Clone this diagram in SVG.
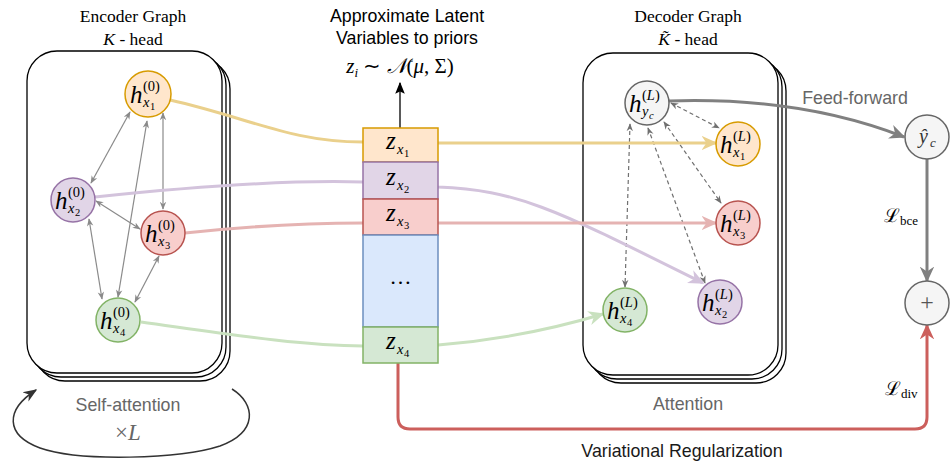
<svg xmlns="http://www.w3.org/2000/svg" width="950" height="465" viewBox="0 0 950 465">
<style>
.box{fill:#fff;stroke:#000;stroke-width:1.3}
.ttl{font-family:"Liberation Serif",serif;font-size:17.5px;fill:#000;text-anchor:middle}
.sans{font-family:"Liberation Sans",Arial,sans-serif;font-size:17.8px;text-anchor:middle}
.mh{font-family:"Liberation Serif",serif;font-style:italic;font-size:25px;fill:#000}
.sp{font-family:"Liberation Serif",serif;font-size:14.5px;fill:#000}
.si{font-family:"Liberation Serif",serif;font-style:italic;font-size:14.5px;fill:#000}
.ss{font-family:"Liberation Serif",serif;font-size:10.5px;fill:#000}
.ssi{font-family:"Liberation Serif",serif;font-style:italic;font-size:10.5px;fill:#000}
.ge{fill:none;stroke:#8a8a8a;stroke-width:1.2;marker-start:url(#ag);marker-end:url(#ag)}
.de{fill:none;stroke:#707070;stroke-width:1.2;stroke-dasharray:4 3;marker-start:url(#ad);marker-end:url(#ad)}
.cl{fill:none;stroke-width:3}
</style>
<defs>
<marker id="ag" viewBox="0 0 10 10" refX="9" refY="5" markerWidth="8" markerHeight="8" markerUnits="userSpaceOnUse" orient="auto-start-reverse"><path d="M0,1 L10,5 L0,9 L3,5 z" fill="#8a8a8a"/></marker>
<marker id="ad" viewBox="0 0 10 10" refX="9" refY="5" markerWidth="8" markerHeight="8" markerUnits="userSpaceOnUse" orient="auto-start-reverse"><path d="M0,1 L10,5 L0,9 L3,5 z" fill="#707070"/></marker>
<marker id="ao" viewBox="0 0 10 10" refX="9" refY="5" markerWidth="16" markerHeight="16" markerUnits="userSpaceOnUse" orient="auto"><path d="M0,0.5 L10,5 L0,9.5 L3,5 z" fill="#ead08c"/></marker>
<marker id="ap" viewBox="0 0 10 10" refX="9" refY="5" markerWidth="16" markerHeight="16" markerUnits="userSpaceOnUse" orient="auto"><path d="M0,0.5 L10,5 L0,9.5 L3,5 z" fill="#d3c3dc"/></marker>
<marker id="ar" viewBox="0 0 10 10" refX="9" refY="5" markerWidth="16" markerHeight="16" markerUnits="userSpaceOnUse" orient="auto"><path d="M0,0.5 L10,5 L0,9.5 L3,5 z" fill="#e5b3b2"/></marker>
<marker id="agr" viewBox="0 0 10 10" refX="9" refY="5" markerWidth="16" markerHeight="16" markerUnits="userSpaceOnUse" orient="auto"><path d="M0,0.5 L10,5 L0,9.5 L3,5 z" fill="#c9e1bf"/></marker>
<marker id="agy" viewBox="0 0 10 10" refX="9" refY="5" markerWidth="16" markerHeight="16" markerUnits="userSpaceOnUse" orient="auto"><path d="M0,0.5 L10,5 L0,9.5 L3,5 z" fill="#808080"/></marker>
<marker id="ared" viewBox="0 0 10 10" refX="9" refY="5" markerWidth="16" markerHeight="16" markerUnits="userSpaceOnUse" orient="auto"><path d="M0,0.5 L10,5 L0,9.5 L3,5 z" fill="#cc5f5c"/></marker>
<marker id="ablk" viewBox="0 0 10 10" refX="9" refY="5" markerWidth="12" markerHeight="12" markerUnits="userSpaceOnUse" orient="auto"><path d="M0,1 L10,5 L0,9 L2,5 z" fill="#000"/></marker>
<marker id="adk" viewBox="0 0 10 10" refX="9" refY="5" markerWidth="14" markerHeight="14" markerUnits="userSpaceOnUse" orient="auto"><path d="M0,1 L10,5 L0,9 L3,5 z" fill="#333"/></marker>
</defs>

<!-- Encoder frame -->
<g id="encoder-frame">
<rect class="box" x="35" y="59" width="195" height="322" rx="30"/>
<rect class="box" x="31" y="55" width="195" height="322" rx="30"/>
<rect class="box" x="27" y="51" width="195" height="322" rx="30"/>
<text class="ttl" x="133" y="22">Encoder Graph</text>
<text class="ttl" x="133" y="45"><tspan font-style="italic">K</tspan> - head</text>
</g>

<!-- Decoder frame -->
<g id="decoder-frame">
<rect class="box" x="591" y="61" width="195" height="322" rx="30"/>
<rect class="box" x="587" y="57" width="195" height="322" rx="30"/>
<rect class="box" x="583" y="53" width="195" height="322" rx="30"/>
<text class="ttl" x="688" y="22">Decoder Graph</text>
<text class="ttl" x="688" y="45"><tspan font-style="italic">K̃</tspan> - head</text>
</g>

<!-- connectors -->
<g id="connectors">
<path class="ge" d="M130,112 L91,183"/>
<path class="ge" d="M147,121 L118,297"/>
<path class="ge" d="M163,113 L163,209"/>
<path class="ge" d="M96,201 L140,229"/>
<path class="ge" d="M89,219 L102,299"/>
<path class="ge" d="M159,256 L135,302"/>
<path class="de" d="M671,103 L719,128"/>
<path class="de" d="M664,122 L721,203"/>
<path class="de" d="M648,128 L705,283"/>
<path class="de" d="M630,124 L625,287"/>
<path class="cl" stroke="#ead08c" d="M170,100 C250,118 290,142 363,142 L438,143 L716,143" marker-end="url(#ao)"/>
<path class="cl" stroke="#d3c3dc" d="M95,197 C200,186 300,180 363,182 L438,187 C520,190 560,212 703,283" marker-end="url(#ap)"/>
<path class="cl" stroke="#e5b3b2" d="M185,233 C250,226 300,223 363,223 L716,223" marker-end="url(#ar)"/>
<path class="cl" stroke="#c9e1bf" d="M141,322 C220,333 300,346 363,346 L438,345 C500,340 550,330 603,314" marker-end="url(#agr)"/>
<path class="cl" stroke="#808080" d="M669,101 C760,98 840,112 904,137" marker-end="url(#agy)"/>
<path class="cl" stroke="#808080" d="M927,159 L927,281" marker-end="url(#agy)"/>
<path class="cl" stroke="#cc5f5c" d="M398,363 L398,417 Q398,429 410,429 L915,429 Q927,429 927,417 L927,325" marker-end="url(#ared)"/>
<path fill="none" stroke="#000" stroke-width="1.3" d="M400,128 L400,83" marker-end="url(#ablk)"/>
<path fill="none" stroke="#333" stroke-width="1.5" d="M232,389 C256,404 258,432 220,446 C180,459 80,462 40,448 C5,435 5,410 36,390" marker-end="url(#adk)"/>
</g>

<!-- Encoder nodes -->
<g id="enc-x1">
<circle cx="148" cy="94" r="23" fill="#ffe6cc" stroke="#d79b00" stroke-width="1.5"/>
<text class="mh" x="130" y="103">h</text><text class="sp" x="143" y="91">(0)</text><text class="si" x="143" y="107">x</text><text class="ss" x="150" y="110">1</text>
</g>
<g id="enc-x2">
<circle cx="73" cy="200" r="22" fill="#e1d5e7" stroke="#9673a6" stroke-width="1.5"/>
<text class="mh" x="55" y="209">h</text><text class="sp" x="68" y="197">(0)</text><text class="si" x="68" y="213">x</text><text class="ss" x="75" y="216">2</text>
</g>
<g id="enc-x3">
<circle cx="163" cy="233" r="22" fill="#f8cecc" stroke="#b85450" stroke-width="1.5"/>
<text class="mh" x="145" y="242">h</text><text class="sp" x="158" y="230">(0)</text><text class="si" x="158" y="246">x</text><text class="ss" x="165" y="249">3</text>
</g>
<g id="enc-x4">
<circle cx="118" cy="320" r="22" fill="#d5e8d4" stroke="#82b366" stroke-width="1.5"/>
<text class="mh" x="100" y="329">h</text><text class="sp" x="113" y="317">(0)</text><text class="si" x="113" y="333">x</text><text class="ss" x="120" y="336">4</text>
</g>

<!-- Latent stack -->
<g id="z1">
<rect x="363" y="128" width="75" height="34" fill="#ffe6cc" stroke="#d79b00" stroke-width="1.5"/>
<text class="mh" x="386" y="149" font-size="23">z</text><text class="si" x="397" y="154">x</text><text class="ss" x="404" y="157">1</text>
</g>
<g id="z2">
<rect x="363" y="162" width="75" height="37" fill="#e1d5e7" stroke="#9673a6" stroke-width="1.5"/>
<text class="mh" x="386" y="185" font-size="23">z</text><text class="si" x="397" y="190">x</text><text class="ss" x="404" y="193">2</text>
</g>
<g id="z3">
<rect x="363" y="199" width="75" height="36" fill="#f8cecc" stroke="#b85450" stroke-width="1.5"/>
<text class="mh" x="386" y="221" font-size="23">z</text><text class="si" x="397" y="226">x</text><text class="ss" x="404" y="229">3</text>
</g>
<g id="zdots">
<rect x="363" y="235" width="75" height="92" fill="#dae8fc" stroke="#6c8ebf" stroke-width="1.5"/>
<text x="400.5" y="284" font-family="Liberation Serif,serif" font-size="22" text-anchor="middle">…</text>
</g>
<g id="z4">
<rect x="363" y="327" width="75" height="36" fill="#d5e8d4" stroke="#82b366" stroke-width="1.5"/>
<text class="mh" x="386" y="349" font-size="23">z</text><text class="si" x="397" y="354">x</text><text class="ss" x="404" y="357">4</text>
</g>

<g id="prior-label">
<text class="sans" x="407" y="22" fill="#000">Approximate Latent</text>
<text class="sans" x="407" y="44" fill="#000">Variables to priors</text>
<text x="400" y="73" font-family="Liberation Serif,serif" font-size="21" text-anchor="middle"><tspan font-style="italic">z</tspan><tspan font-style="italic" font-size="13" dy="4">i</tspan><tspan dy="-4"> ∼ </tspan><tspan font-family="DejaVu Serif,serif" font-style="italic">𝒩</tspan>(<tspan font-style="italic">μ</tspan>, Σ)</text>
</g>

<!-- Decoder nodes -->
<g id="dec-yc">
<circle cx="647" cy="103" r="22" fill="#f5f5f5" stroke="#666" stroke-width="1.5"/>
<text class="mh" x="629" y="112">h</text><text class="sp" x="642" y="100">(<tspan font-style="italic">L</tspan>)</text><text class="si" x="642" y="116">y</text><text class="ssi" x="649" y="119">c</text>
</g>
<g id="dec-x1">
<circle cx="738" cy="144" r="22" fill="#ffe6cc" stroke="#d79b00" stroke-width="1.5"/>
<text class="mh" x="720" y="153">h</text><text class="sp" x="733" y="141">(<tspan font-style="italic">L</tspan>)</text><text class="si" x="733" y="157">x</text><text class="ss" x="740" y="160">1</text>
</g>
<g id="dec-x3">
<circle cx="738" cy="223" r="22" fill="#f8cecc" stroke="#b85450" stroke-width="1.5"/>
<text class="mh" x="720" y="232">h</text><text class="sp" x="733" y="220">(<tspan font-style="italic">L</tspan>)</text><text class="si" x="733" y="236">x</text><text class="ss" x="740" y="239">3</text>
</g>
<g id="dec-x2">
<circle cx="720" cy="302" r="22" fill="#e1d5e7" stroke="#9673a6" stroke-width="1.5"/>
<text class="mh" x="702" y="311">h</text><text class="sp" x="715" y="299">(<tspan font-style="italic">L</tspan>)</text><text class="si" x="715" y="315">x</text><text class="ss" x="722" y="318">2</text>
</g>
<g id="dec-x4">
<circle cx="625" cy="310" r="22" fill="#d5e8d4" stroke="#82b366" stroke-width="1.5"/>
<text class="mh" x="607" y="319">h</text><text class="sp" x="620" y="307">(<tspan font-style="italic">L</tspan>)</text><text class="si" x="620" y="323">x</text><text class="ss" x="627" y="326">4</text>
</g>

<g id="yhat">
<circle cx="927" cy="137" r="22" fill="#f5f5f5" stroke="#666" stroke-width="1.5"/>
<text x="919" y="143" font-family="Liberation Serif,serif" font-style="italic" font-size="20" fill="#333">ŷ</text><text x="930" y="147" font-family="Liberation Serif,serif" font-style="italic" font-size="13" fill="#333">c</text>
</g>
<g id="plus">
<circle cx="927" cy="303" r="22" fill="#f5f5f5" stroke="#666" stroke-width="1.5"/>
<text x="927" y="310" font-family="Liberation Serif,serif" font-size="24" fill="#555" text-anchor="middle">+</text>
</g>

<g id="labels">
<text class="sans" x="128" y="411" fill="#666">Self-attention</text>
<text x="128" y="440" font-family="Liberation Serif,serif" font-size="23" fill="#666" text-anchor="middle">×<tspan font-style="italic">L</tspan></text>
<text class="sans" x="688" y="410" fill="#666">Attention</text>
<text class="sans" x="855" y="104" fill="#666">Feed-forward</text>
<text class="sans" x="682" y="457" fill="#1a1a1a">Variational Regularization</text>
<text x="884" y="222" font-family="DejaVu Serif,serif" font-size="19" fill="#000">ℒ<tspan font-family="Liberation Serif,serif" font-size="13" dy="3">bce</tspan></text>
<text x="885" y="395" font-family="DejaVu Serif,serif" font-size="19" fill="#000">ℒ<tspan font-family="Liberation Serif,serif" font-size="13" dy="3">div</tspan></text>
</g>
</svg>
